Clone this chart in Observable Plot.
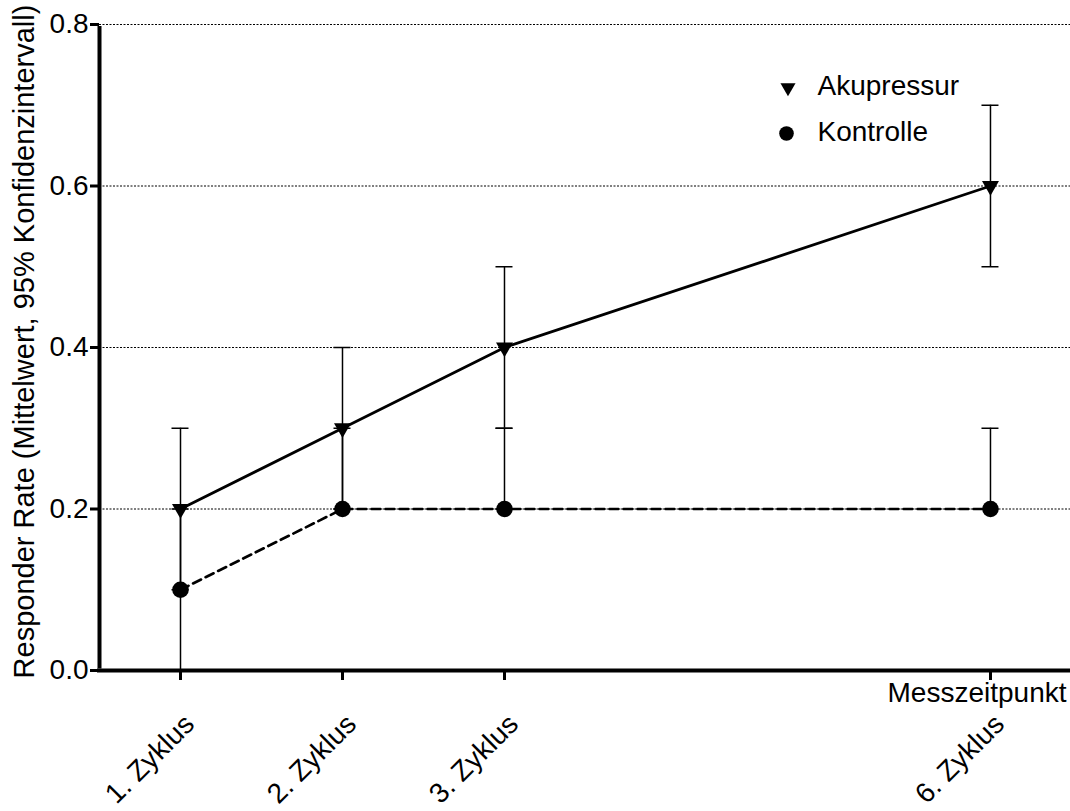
<!DOCTYPE html>
<html>
<head>
<meta charset="utf-8">
<script src="https://cdn.jsdelivr.net/npm/d3@7"></script>
<script src="https://cdn.jsdelivr.net/npm/@observablehq/plot@0.6"></script>
<style>
  html, body { margin: 0; padding: 0; background: #fff; }
  #chart { width: 1070px; height: 811px; }
</style>
</head>
<body>
<div id="chart"></div>
<script>
// ---- data ----
const cycles = [1, 2, 3, 6];
const tickLabels = ["1. Zyklus", "2. Zyklus", "3. Zyklus", "6. Zyklus"];
const akuMean = [0.2, 0.3, 0.4, 0.6];
const akuLow  = [0.1, 0.2, 0.3, 0.5];
const akuHigh = [0.3, 0.4, 0.5, 0.7];
const konMean = [0.1, 0.2, 0.2, 0.2];
const konLow  = [0.0, 0.2, 0.2, 0.2];
const konHigh = [0.2, 0.3, 0.3, 0.3];
const yTicks = [0, 0.2, 0.4, 0.6, 0.8];
const gridTicks = [0.2, 0.4, 0.6, 0.8];
const seriesNames = ["Akupressur", "Kontrolle"];
const yLabel = "Responder Rate (Mittelwert, 95% Konfidenzintervall)";
const xLabel = "Messzeitpunkt";

const xDomain = [0.5, 6.494];
const yDomain = [0, 0.8];

const aku = cycles.map((c, i) => ({x: c, y: akuMean[i], lo: akuLow[i], hi: akuHigh[i]}));
const kon = cycles.map((c, i) => ({x: c, y: konMean[i], lo: konLow[i], hi: konHigh[i]}));
const ticksData = cycles.map((c, i) => ({x: c, label: tickLabels[i]}));

// downward triangle symbol
const triangleDown = {
  draw(context, size) {
    const y = -Math.sqrt(size / (Math.sqrt(3) * 3));
    context.moveTo(0, -y * 2);
    context.lineTo(-Math.sqrt(3) * y, y);
    context.lineTo(Math.sqrt(3) * y, y);
    context.closePath();
  }
};

const font = "'Liberation Sans', Arial, sans-serif";
const fs = 28;

const errMarks = (data) => [
  Plot.ruleX(data, {x: "x", y1: "lo", y2: "hi", stroke: "black", strokeWidth: 1.5}),
  Plot.ruleY(data, {y: "hi", x1: "x", x2: "x", insetLeft: -8.5, insetRight: -8.5, stroke: "black", strokeWidth: 1.5}),
  Plot.ruleY(data, {y: "lo", x1: "x", x2: "x", insetLeft: -8.5, insetRight: -8.5, stroke: "black", strokeWidth: 1.5})
];

const chart = Plot.plot({
  width: 1070,
  height: 811,
  marginLeft: 99,
  marginRight: 0,
  marginTop: 24,
  marginBottom: 141,
  x: {domain: xDomain, axis: null},
  y: {domain: yDomain, axis: null},
  style: {fontFamily: font, fontSize: fs + "px", background: "white", color: "black", overflow: "visible"},
  marks: [
    // gridlines
    Plot.ruleY(gridTicks, {y: d => d, stroke: "black", strokeWidth: 1, strokeDasharray: "2,1.5"}),
    // error bars
    ...errMarks(aku),
    ...errMarks(kon),
    // lines
    Plot.line(aku, {x: "x", y: "y", stroke: "black", strokeWidth: 2.8}),
    Plot.line(kon, {x: "x", y: "y", stroke: "black", strokeWidth: 2.6, strokeDasharray: "9,5"}),
    // points
    Plot.dot(aku, {x: "x", y: "y", symbol: triangleDown, r: 6.3, fill: "black", stroke: "none"}),
    Plot.dot(kon, {x: "x", y: "y", symbol: "circle", r: 8.3, fill: "black", stroke: "none"}),
    // axes lines
    Plot.ruleY([yDomain[0]], {y: d => d, stroke: "black", strokeWidth: 4, insetLeft: -2}),
    Plot.ruleX([xDomain[0]], {x: d => d, y1: yDomain[0], y2: yDomain[1], stroke: "black", strokeWidth: 4, insetTop: -1.5, insetBottom: -2}),
    // y axis ticks & labels
    Plot.axisY({ticks: yTicks, tickFormat: d3.format(".1f"), tickSize: 9, tickPadding: 2, strokeWidth: 3, label: null, fontSize: fs}),
    // x axis ticks
    Plot.axisX({ticks: cycles, tickSize: 10, strokeWidth: 3, tickFormat: () => "", label: null}),
    // x tick labels rotated
    Plot.text(ticksData, {x: "x", text: "label", frameAnchor: "bottom", lineAnchor: "middle", rotate: -45, textAnchor: "end", dx: 9, dy: 49, fontSize: fs, fill: "black"}),
    // axis titles
    Plot.text([xLabel], {text: d => d, frameAnchor: "bottom-right", lineAnchor: "middle", textAnchor: "end", dx: -4, dy: 23, fontSize: fs, fill: "black"}),
    Plot.text([yLabel], {text: d => d, frameAnchor: "left", lineAnchor: "middle", rotate: -90, textAnchor: "middle", dx: -75, dy: -6, fontSize: 29, fill: "black"}),
    // legend
    Plot.dot([seriesNames[0]], {frameAnchor: "top-left", dx: 688.5, dy: 63, symbol: triangleDown, r: 5.6, fill: "black", stroke: "none"}),
    Plot.dot([seriesNames[1]], {frameAnchor: "top-left", dx: 687, dy: 109, symbol: "circle", r: 7.3, fill: "black", stroke: "none"}),
    Plot.text([seriesNames[0]], {text: d => d, frameAnchor: "top-left", lineAnchor: "middle", textAnchor: "start", dx: 718, dy: 62, fontSize: fs, fill: "black"}),
    Plot.text([seriesNames[1]], {text: d => d, frameAnchor: "top-left", lineAnchor: "middle", textAnchor: "start", dx: 718, dy: 108, fontSize: fs, fill: "black"})
  ]
});

document.getElementById("chart").appendChild(chart);
</script>
</body>
</html>
